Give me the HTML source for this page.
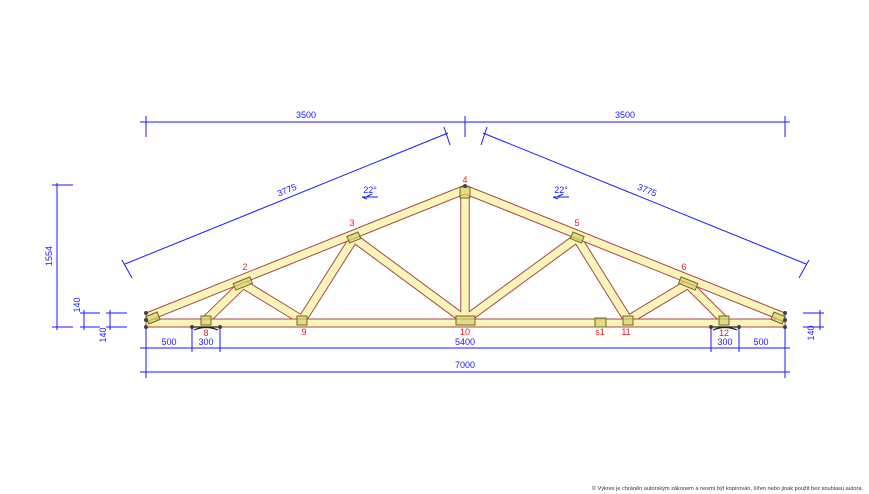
<!DOCTYPE html>
<html><head><meta charset="utf-8"><style>
html,body{margin:0;padding:0;background:#fff;}
svg{display:block;font-family:"Liberation Sans",sans-serif;}
</style></head><body>
<svg width="869" height="494" viewBox="0 0 869 494" xmlns="http://www.w3.org/2000/svg">
<g stroke-linecap="butt">
<g stroke="#a84848" stroke-width="9.5">
<line x1="206" y1="320" x2="243" y2="284"/>
<line x1="243" y1="284" x2="302" y2="320"/>
<line x1="302" y1="320" x2="354" y2="238"/>
<line x1="354" y1="238" x2="465" y2="320"/>
<line x1="465" y1="320" x2="465" y2="190"/>
<line x1="465" y1="320" x2="577" y2="238"/>
<line x1="577" y1="238" x2="628" y2="320"/>
<line x1="628" y1="320" x2="688" y2="284"/>
<line x1="688" y1="284" x2="724" y2="320"/>
</g>
<g stroke="#fbf4b8" stroke-width="7.5">
<line x1="206" y1="320" x2="243" y2="284"/>
<line x1="243" y1="284" x2="302" y2="320"/>
<line x1="302" y1="320" x2="354" y2="238"/>
<line x1="354" y1="238" x2="465" y2="320"/>
<line x1="465" y1="320" x2="465" y2="190"/>
<line x1="465" y1="320" x2="577" y2="238"/>
<line x1="577" y1="238" x2="628" y2="320"/>
<line x1="628" y1="320" x2="688" y2="284"/>
<line x1="688" y1="284" x2="724" y2="320"/>
</g>
</g>
<polygon points="146,319 785,319 785,327 146,327" fill="#fbf4b8" stroke="#a84848" stroke-width="1"/>
<polygon points="146,313 465,185 785,313 785,322 465,194 146,322" fill="#fbf4b8" stroke="#a84848" stroke-width="1"/>
<g fill="#d8d070" fill-opacity="0.7" stroke="#6b6b20" stroke-width="1">
<rect x="147" y="314" width="12" height="8" transform="rotate(-22 153 318)"/>
<rect x="234" y="280" width="18" height="7" transform="rotate(-22 243 284)"/>
<rect x="348" y="234" width="12" height="7" transform="rotate(-22 354 238)"/>
<rect x="460" y="187" width="10" height="11"/>
<rect x="571" y="234" width="12" height="7" transform="rotate(22 577 238)"/>
<rect x="679" y="280" width="18" height="7" transform="rotate(22 688 284)"/>
<rect x="772" y="314" width="12" height="8" transform="rotate(22 778 318)"/>
<rect x="201" y="316" width="10" height="9"/>
<rect x="297" y="316" width="10" height="9"/>
<rect x="456" y="316" width="19" height="9"/>
<rect x="595" y="318" width="11" height="9"/>
<rect x="623" y="316" width="10" height="9"/>
<rect x="719" y="316" width="10" height="9"/>
</g>
<g stroke="#222" stroke-width="1.2" fill="none">
<path d="M192 327 H220 M194 330 Q206 325 218 330"/>
<path d="M711 327 H739 M713 330 Q725 325 737 330"/>
</g>
<g fill="#444">
<circle cx="192" cy="327" r="2"/><circle cx="220" cy="327" r="2"/>
<circle cx="711" cy="327" r="2"/><circle cx="739" cy="327" r="2"/>
<circle cx="146" cy="313" r="2"/><circle cx="146" cy="320" r="2"/><circle cx="146" cy="327" r="2"/>
<circle cx="785" cy="313" r="2"/><circle cx="785" cy="320" r="2"/><circle cx="785" cy="327" r="2"/>
<circle cx="465" cy="186" r="2"/>
</g>
<g fill="#e02020" font-size="9" text-anchor="middle">
<text x="245" y="270">2</text><text x="352" y="226">3</text><text x="465" y="183">4</text>
<text x="577" y="226">5</text><text x="684" y="270">6</text>
<text x="206" y="336">8</text><text x="304" y="335">9</text><text x="465" y="335">10</text>
<text x="600" y="335">s1</text><text x="626" y="335">11</text><text x="724" y="336">12</text>
</g>
<g stroke="#1a1aff" stroke-width="1" fill="none">
<line x1="140" y1="122" x2="790" y2="122"/>
<line x1="146" y1="116" x2="146" y2="137"/><line x1="465" y1="116" x2="465" y2="137"/><line x1="785" y1="116" x2="785" y2="137"/>
<line x1="125" y1="264" x2="448" y2="133"/><line x1="122" y1="260" x2="132" y2="278"/><line x1="444" y1="127" x2="450" y2="145"/>
<line x1="483" y1="133" x2="806" y2="264"/><line x1="481" y1="145" x2="487" y2="127"/><line x1="799" y1="278" x2="809" y2="260"/>
<line x1="57" y1="183" x2="57" y2="330"/><line x1="52" y1="185" x2="73" y2="185"/><line x1="52" y1="327" x2="73" y2="327"/>
<line x1="84" y1="310" x2="84" y2="330"/><line x1="80" y1="313" x2="100" y2="313"/><line x1="80" y1="327" x2="100" y2="327"/>
<line x1="110" y1="310" x2="110" y2="330"/><line x1="106" y1="313" x2="127" y2="313"/><line x1="106" y1="327" x2="127" y2="327"/>
<line x1="820" y1="310" x2="820" y2="330"/><line x1="803" y1="313" x2="824" y2="313"/><line x1="803" y1="327" x2="824" y2="327"/>
<line x1="140" y1="348" x2="790" y2="348"/>
<line x1="140" y1="372" x2="790" y2="372"/>
<line x1="146" y1="327" x2="146" y2="378"/><line x1="785" y1="327" x2="785" y2="378"/>
<line x1="192" y1="327" x2="192" y2="352"/><line x1="220" y1="327" x2="220" y2="352"/>
<line x1="711" y1="327" x2="711" y2="352"/><line x1="739" y1="327" x2="739" y2="352"/>
<path d="M362 197 H378 M366 197 l6 -3 M362 197 l5 2"/>
<path d="M553 197 H569 M557 197 l6 -3 M553 197 l5 2"/>
</g>
<g fill="#1a1aff" font-size="9" text-anchor="middle">
<text x="306" y="118">3500</text><text x="625" y="118">3500</text>
<text x="288" y="193" transform="rotate(-22 288 193)">3775</text>
<text x="646" y="193" transform="rotate(22 646 193)">3775</text>
<text x="370" y="193">22°</text><text x="561" y="193">22°</text>
<text x="52" y="256" transform="rotate(-90 52 256)">1554</text>
<text x="80" y="305" transform="rotate(-90 80 305)">140</text>
<text x="106" y="335" transform="rotate(-90 106 335)">140</text>
<text x="814" y="333" transform="rotate(-90 814 333)">140</text>
<text x="169" y="345">500</text><text x="206" y="345">300</text>
<text x="465" y="345">5400</text>
<text x="725" y="345">300</text><text x="761" y="345">500</text>
<text x="465" y="368">7000</text>
</g>
<text x="863" y="490" font-size="5.6" fill="#333" text-anchor="end">© Výkres je chráněn autorským zákonem a nesmí být kopírován, šířen nebo jinak použit bez souhlasu autora.</text>
</svg>
</body></html>
